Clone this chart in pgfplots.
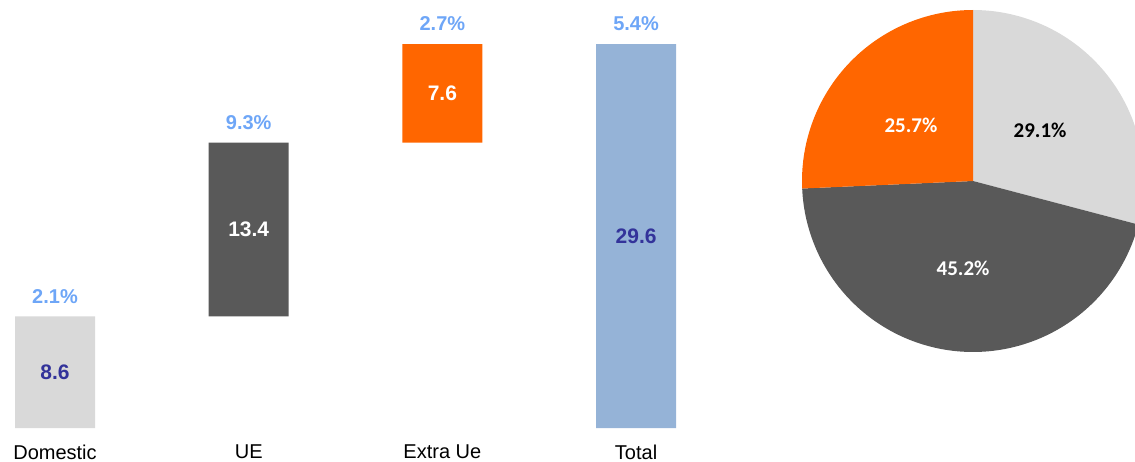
\documentclass[border=0pt]{standalone}
\usepackage{pgfplots}
\pgfplotsset{compat=1.18}
\usepackage{fontspec}
\setmainfont{Liberation Sans}
\newfontfamily\carlito{Carlito}
\definecolor{lgray}{HTML}{D9D9D9}
\definecolor{dgray}{HTML}{595959}
\definecolor{orng}{HTML}{FF6600}
\definecolor{lblue}{HTML}{95B3D7}
\definecolor{pct}{HTML}{6EA6F7}
\definecolor{navy}{HTML}{33339A}
\begin{document}
\begin{tikzpicture}
\path[use as bounding box] (0pt,0pt) rectangle (567.5pt,230.5pt);
\begin{axis}[at={(0pt,16.5pt)}, anchor=south west,
  width=350pt, height=214pt, scale only axis,
  xmin=-0.284, xmax=3.33, ymin=0, ymax=33.0,
  axis line style={draw=none}, ytick=\empty,
  xtick={0,1,2,3}, xticklabels={Domestic,UE,Extra Ue,Total},
  major tick length=0pt,
  xticklabel style={anchor=center, yshift=-12pt, font=\fontsize{10}{12}\selectfont},
  clip=false]
% floating bars: (x-w, base) (x+w, base) (x+w, top) (x-w, top)
\addplot[draw=none, fill=lgray] coordinates {(-0.2065,0) (0.2065,0) (0.2065,8.6) (-0.2065,8.6) (-0.2065,0)};
\addplot[draw=none, fill=dgray] coordinates {(0.7935,8.6) (1.2065,8.6) (1.2065,22.0) (0.7935,22.0) (0.7935,8.6)};
\addplot[draw=none, fill=orng] coordinates {(1.7935,22.0) (2.2065,22.0) (2.2065,29.6) (1.7935,29.6) (1.7935,22.0)};
\addplot[draw=none, fill=lblue] coordinates {(2.7935,0) (3.2065,0) (3.2065,29.6) (2.7935,29.6) (2.7935,0)};
\begin{scope}[every node/.style={font=\bfseries\fontsize{10.5}{12}\selectfont}]
\node[text=navy] at (axis cs:0,4.3) {8.6};
\node[text=white] at (axis cs:1,15.3) {13.4};
\node[text=white] at (axis cs:2,25.8) {7.6};
\node[text=navy] at (axis cs:3,14.8) {29.6};
\end{scope}
\begin{scope}[every node/.style={font=\bfseries\fontsize{10}{12}\selectfont}]
\node[text=pct, yshift=10pt] at (axis cs:0,8.6) {2.1\%};
\node[text=pct, yshift=10pt] at (axis cs:1,22.0) {9.3\%};
\node[text=pct, yshift=10pt] at (axis cs:2,29.6) {2.7\%};
\node[text=pct, yshift=10pt] at (axis cs:3,29.6) {5.4\%};
\end{scope}
\end{axis}
\begin{axis}[at={(486.5pt,140pt)}, anchor=center,
  width=171pt, height=171pt, scale only axis,
  xmin=-1, xmax=1, ymin=-1, ymax=1, hide axis, clip=false]
\addplot[draw=none, fill=lgray, domain=-14.76:90, samples=80] ({cos(x)},{sin(x)}) -- (axis cs:0,0) -- cycle;
\addplot[draw=none, fill=dgray, domain=-177.48:-14.76, samples=120] ({cos(x)},{sin(x)}) -- (axis cs:0,0) -- cycle;
\addplot[draw=none, fill=orng, domain=-270:-177.48, samples=80] ({cos(x)},{sin(x)}) -- (axis cs:0,0) -- cycle;
\begin{scope}[every node/.style={font=\carlito\bfseries\fontsize{10.5}{12}\selectfont}]
\node[text=white] at (axis cs:-0.363,0.327) {25.7\%};
\node[text=black] at (axis cs:0.392,0.298) {29.1\%};
\node[text=white] at (axis cs:-0.058,-0.509) {45.2\%};
\end{scope}
\end{axis}
\end{tikzpicture}
\end{document}
